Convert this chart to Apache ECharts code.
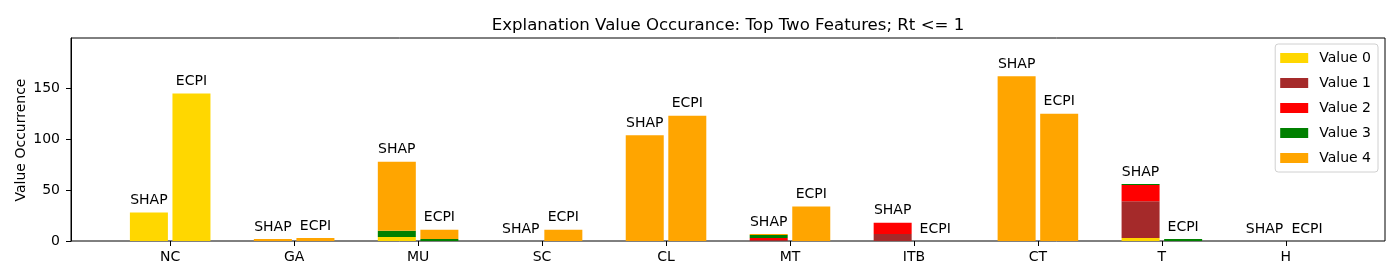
<!DOCTYPE html>
<html>
<head>
<meta charset="utf-8">
<script src="https://cdn.jsdelivr.net/npm/echarts@6/dist/echarts.min.js"></script>
<style>html,body{margin:0;padding:0;background:#fff}#c{width:1400px;height:280px}</style>
</head>
<body>
<div id="c"></div>
<script>
const categories = ['NC','GA','MU','SC','CL','MT','ITB','CT','T','H'];
const valueNames = ['Value 0','Value 1','Value 2','Value 3','Value 4'];
const colors = ['#FFD700','#A52A2A','#FF0000','#008000','#FFA500'];
const methods = ['SHAP','ECPI'];
const shap0 = [28,0,4,0,0,0,0,0,3,0];
const shap1 = [0,0,0,0,0,1,7,0,36,0];
const shap2 = [0,0,0,0,0,2,11,0,16,0];
const shap3 = [0,0,6,0,0,3,0,0,1,0];
const shap4 = [0,2,68,0,104,1,0,162,0,0];
const ecpi0 = [145,0,0,0,0,0,0,0,0,0];
const ecpi1 = [0,0,0,0,0,0,0,0,0,0];
const ecpi2 = [0,0,0,0,0,0,0,0,0,0];
const ecpi3 = [0,0,2,0,0,0,0,0,2,0];
const ecpi4 = [0,3,9,11,123,34,0,125,0,0];
const yTicks = [0,50,100,150];

const groups = {SHAP:[shap0,shap1,shap2,shap3,shap4], ECPI:[ecpi0,ecpi1,ecpi2,ecpi3,ecpi4]};
const font = 'DejaVu Sans';
const Y_MAX = 199.5;
const series = [];
methods.forEach(m => {
  groups[m].forEach((arr, k) => {
    series.push({
      type:'bar', name: valueNames[k], stack: m,
      xAxisIndex:1, yAxisIndex:1,
      barWidth: 38, barGap: '12%',
      itemStyle:{color: colors[k]},
      data: arr,
      label: k===4 ? {show:true, position:'top', distance:5, formatter: m, color:'#000', fontSize:14, fontFamily:font} : {show:false},
      emphasis:{disabled:true}
    });
  });
});

const chart = echarts.init(document.getElementById('c'));
chart.setOption({
  animation:false,
  title:{text:'Explanation Value Occurance: Top Two Features; Rt <= 1', left:723, textAlign:'center', top:12,
    textStyle:{fontSize:16.6, fontWeight:'normal', color:'#000', fontFamily:font}},
  graphic:[{type:'text', x:21, y:140, rotation:Math.PI/2,
    style:{text:'Value Occurrence', font:'14px "DejaVu Sans"', fill:'#000', align:'center', verticalAlign:'middle'}}],
  grid:[
    {left:71, right:15, top:38, bottom:39, show:true, borderColor:'#000', borderWidth:1},
    {left:108.2, right:52.2, top:38, bottom:39}
  ],
  legend:{data:valueNames, orient:'vertical', right:22, top:44, itemWidth:28, itemHeight:10, itemGap:11,
    padding:[7,7,7,5], borderColor:'#d0d0d0', borderWidth:1, borderRadius:3, icon:'rect',
    textStyle:{fontSize:14, color:'#000', fontFamily:font, lineHeight:10, padding:[0,0,0,6]}},
  xAxis:[
    {type:'value', gridIndex:0, min:0, max:1, show:false},
    {type:'category', gridIndex:1, data:categories, boundaryGap:true,
      axisLine:{show:false},
      axisTick:{show:true, alignWithLabel:true, length:5, lineStyle:{color:'#000'}},
      axisLabel:{fontSize:14, color:'#000', fontFamily:font, margin:9},
      splitLine:{show:false}}
  ],
  yAxis:[
    {type:'value', gridIndex:0, min:0, max:Y_MAX,
      axisLine:{show:true, onZero:false, lineStyle:{color:'#000'}},
      axisTick:{show:true, length:5, lineStyle:{color:'#000'}, customValues:yTicks},
      axisLabel:{customValues:yTicks, fontSize:14, color:'#000', fontFamily:font, margin:11},
      splitLine:{show:false}},
    {type:'value', gridIndex:1, min:0, max:Y_MAX, show:false}
  ],
  series: series
});
</script>
</body>
</html>
